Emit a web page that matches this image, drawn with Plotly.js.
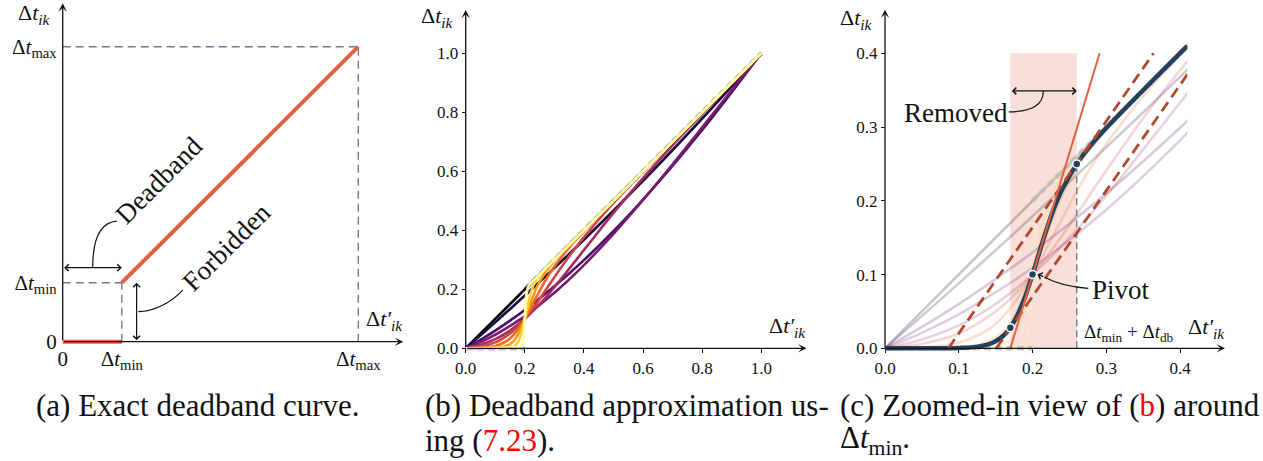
<!DOCTYPE html>
<html>
<head>
<meta charset="utf-8">
<script src="https://cdn.plot.ly/plotly-3.0.1.min.js"></script>
<style>html,body{margin:0;padding:0;background:#fff;}</style>
</head>
<body>
<div id="chart" style="width:1263px;height:461px"></div>
<script>
// ---------- data (time axis normalised so that Δt_max = 1) ----------
const dtMin = 0.2;
const dtMax = 1.0;

// exact deadband curve
const exactOffX = [0, 0.2];
const exactOffY = [0, 0];
const exactOnX = [0.2, 1.0];
const exactOnY = [0.2, 1.0];

// smooth approximations, from softest (black) to sharpest (pale yellow)
const c0X = [0, 1];
const c0Y = [0, 1];
const c1X = [0, 0.1, 0.2, 0.4, 0.6, 0.8, 1];
const c1Y = [0, 0.088, 0.179, 0.368, 0.568, 0.779, 1];
const c2X = [0, 0.05, 0.1, 0.15, 0.2, 0.3, 0.4, 0.5, 0.6, 0.7, 0.8, 0.9, 1];
const c2Y = [0, 0.029, 0.060, 0.094, 0.130, 0.210, 0.299, 0.397, 0.504, 0.619, 0.740, 0.868, 1];
const c3X = [0, 0.05, 0.1, 0.15, 0.2, 0.3, 0.4, 0.5, 0.6, 0.7, 0.8, 0.9, 1];
const c3Y = [0, 0.021, 0.046, 0.076, 0.109, 0.188, 0.282, 0.388, 0.503, 0.624, 0.749, 0.875, 1];
const c4X = [0, 0.05, 0.1, 0.15, 0.2, 0.25, 0.3, 0.4, 0.5, 0.6, 0.7, 0.8, 0.9, 1];
const c4Y = [0, 0.012, 0.031, 0.060, 0.100, 0.150, 0.207, 0.333, 0.459, 0.577, 0.689, 0.795, 0.898, 1];
const c5X = [0, 0.05, 0.1, 0.15, 0.175, 0.2, 0.225, 0.25, 0.3, 0.35, 0.4, 0.5, 0.6, 0.8, 1];
const c5Y = [0, 0.006, 0.020, 0.050, 0.072, 0.100, 0.132, 0.167, 0.241, 0.312, 0.377, 0.493, 0.598, 0.800, 1];
const c6X = [0, 0.05, 0.1, 0.125, 0.15, 0.175, 0.2, 0.225, 0.25, 0.275, 0.3, 0.35, 0.4, 0.5, 1];
const c6Y = [0, 0.001, 0.008, 0.017, 0.033, 0.061, 0.100, 0.147, 0.194, 0.239, 0.277, 0.342, 0.397, 0.500, 1];
const c7X = [0, 0.1, 0.125, 0.15, 0.1625, 0.175, 0.1875, 0.2, 0.2125, 0.225, 0.2375, 0.25, 0.275, 0.3, 0.35, 1];
const c7Y = [0, 0.001, 0.004, 0.014, 0.025, 0.043, 0.068, 0.100, 0.135, 0.170, 0.201, 0.226, 0.266, 0.297, 0.350, 1];
const c8X = [0, 0.14, 0.16, 0.17, 0.18, 0.19, 0.2, 0.21, 0.22, 0.23, 0.24, 0.26, 0.28, 1];
const c8Y = [0, 0.001, 0.004, 0.011, 0.026, 0.055, 0.100, 0.149, 0.189, 0.216, 0.234, 0.259, 0.280, 1];
const c9X = [0, 0.185, 0.19, 0.195, 0.1975, 0.2, 0.2025, 0.205, 0.21, 0.215, 1];
const c9Y = [0, 0.0005, 0.003, 0.023, 0.053, 0.100, 0.148, 0.181, 0.206, 0.215, 1];

// selected approximation shown in the zoomed view
const chosenX = [0, 0.1, 0.12, 0.14, 0.15, 0.16, 0.17, 0.18, 0.19, 0.2, 0.21, 0.22, 0.23, 0.24, 0.26, 0.28, 0.3, 0.35, 0.41];
const chosenY = [0, 0.0005, 0.0016, 0.0054, 0.0096, 0.0167, 0.0283, 0.0458, 0.0701, 0.1, 0.1325, 0.164, 0.1917, 0.2149, 0.25, 0.2762, 0.2986, 0.3499, 0.41];
const keyX = [0.17, 0.2, 0.26];
const keyY = [0.028, 0.1, 0.25];
const tangentX = [0.17, 0.291];
const tangentY = [0, 0.4];
const boundAX = [0.086, 0.364];
const boundAY = [0, 0.4];
const boundBX = [0.151, 0.43];
const boundBY = [0, 0.4];
const removedBand = [0.17, 0.26];
const removedTop = 0.4;

const ticksB = [0, 0.2, 0.4, 0.6, 0.8, 1.0];
const ticksC = [0, 0.1, 0.2, 0.3, 0.4];

// ---------- styling ----------
const curvesX = [c0X, c1X, c2X, c3X, c4X, c5X, c6X, c7X, c8X, c9X];
const curvesY = [c0Y, c1Y, c2Y, c3Y, c4Y, c5Y, c6Y, c7Y, c8Y, c9Y];
const curveColors = ['#000004', '#1b0c41', '#4a0c6b', '#781c6d', '#a52c60',
                     '#cf4446', '#ed6925', '#fb9b06', '#f7d13d', '#fcffa4'];
const curveShapes = ['linear', 'spline', 'spline', 'spline', 'spline',
                     'spline', 'spline', 'linear', 'linear', 'linear'];

const W = 1263, H = 461;
const FONT = 'Liberation Serif';
const INK = '#111';
const ORANGE = '#e1603f';
const SLATE = '#6f7d8f';
const NAVY = '#24425f';
const RUST = '#b4472f';

// pixel frame of each panel: origin and pixels per data unit
const frameA = {ox: 62.7, oy: 341.7, sx: 295.6, sy: 295};
const frameB = {ox: 465.7, oy: 348.3, sx: 295.6, sy: 295};
const frameC = {ox: 885, oy: 348.3, sx: 737.5, sy: 737.5};

function domX(f, r) { return [(f.ox + f.sx * r[0]) / W, (f.ox + f.sx * r[1]) / W]; }
function domY(f, r) { return [1 - (f.oy - f.sy * r[0]) / H, 1 - (f.oy - f.sy * r[1]) / H]; }
function px(x) { return x / W; }
function py(y) { return 1 - y / H; }

function xAxis(f, range, extra) {
  return Object.assign({
    domain: domX(f, range), range: range, anchor: 'free', position: 1 - f.oy / H,
    showgrid: false, zeroline: false, showline: false,
    ticks: 'outside', ticklen: 4, tickwidth: 1, tickcolor: INK,
    tickfont: {family: FONT, size: 17, color: INK}, fixedrange: true
  }, extra);
}
function yAxis(f, range, extra) {
  return Object.assign({
    domain: domY(f, range), range: range, anchor: 'free', position: f.ox / W,
    showgrid: false, zeroline: false, showline: false,
    ticks: 'outside', ticklen: 4, tickwidth: 1, tickcolor: INK,
    tickfont: {family: FONT, size: 17, color: INK}, fixedrange: true
  }, extra);
}

const rangeAX = [-0.06, 1.16], rangeAY = [-0.06, 1.155];
const rangeBX = [-0.06, 1.16], rangeBY = [-0.06, 1.155];
const rangeCX = [-0.025, 0.465], rangeCY = [-0.025, 0.462];
const rangeDX = [-0.025, 0.41], rangeDY = [-0.025, 0.42];

const traces = [];
function line(xs, ys, xa, ya, lineStyle, extra) {
  traces.push(Object.assign({type: 'scatter', mode: 'lines', x: xs, y: ys, xaxis: xa, yaxis: ya,
    line: lineStyle, hoverinfo: 'skip', showlegend: false}, extra || {}));
}

// ----- (a) exact deadband -----
const guide = {color: SLATE, width: 1.4, dash: '8px,5px'};
line([0, dtMax], [dtMax, dtMax], 'x', 'y', guide);
line([dtMax, dtMax], [0, dtMax], 'x', 'y', guide);
line([0, dtMin], [dtMin, dtMin], 'x', 'y', guide);
line([dtMin, dtMin], [0, dtMin], 'x', 'y', guide);
line(exactOffX, exactOffY, 'x', 'y', {color: ORANGE, width: 4});
line(exactOnX, exactOnY, 'x', 'y', {color: ORANGE, width: 4});

// ----- (b) family of approximations -----
const exactStyle = {color: '#bdbdbd', width: 4.5, dash: '7px,4px'};
line(exactOffX, exactOffY, 'x2', 'y2', exactStyle);
line(exactOnX, exactOnY, 'x2', 'y2', exactStyle);
for (let i = 0; i < curvesX.length; i++) {
  line(curvesX[i], curvesY[i], 'x2', 'y2', {color: curveColors[i], width: 2.6, shape: curveShapes[i]});
}

// ----- (c) zoom around Δt_min (drawn in a clipped overlay frame) -----
line([], [], 'x3', 'y3', {color: INK});
for (let i = 0; i < curvesX.length; i++) {
  line(curvesX[i], curvesY[i], 'x4', 'y4', {color: curveColors[i], width: 2.6, shape: curveShapes[i]}, {opacity: 0.22});
}
line(exactOffX, exactOffY, 'x4', 'y4', exactStyle, {opacity: 0.8});
line(exactOnX, exactOnY, 'x4', 'y4', exactStyle, {opacity: 0.8});
line([removedBand[1], removedBand[1]], [0, keyY[2]], 'x4', 'y4', {color: SLATE, width: 1.4, dash: '7px,4px'});
line(chosenX, chosenY, 'x4', 'y4', {color: NAVY, width: 4.5, shape: 'spline'});
line(boundAX, boundAY, 'x4', 'y4', {color: RUST, width: 2.8, dash: '11px,6px'});
line(boundBX, boundBY, 'x4', 'y4', {color: RUST, width: 2.8, dash: '11px,6px'});
line(tangentX, tangentY, 'x4', 'y4', {color: ORANGE, width: 2});
traces.push({type: 'scatter', mode: 'markers', x: keyX, y: keyY, xaxis: 'x4', yaxis: 'y4',
  marker: {color: NAVY, size: 8, line: {color: '#fff', width: 1.5}}, hoverinfo: 'skip', showlegend: false});

// ---------- annotations ----------
const ann = [];
function axisArrow(xa, ya, x0, y0, x1, y1) {
  ann.push({xref: xa, yref: ya, axref: xa, ayref: ya, x: x1, y: y1, ax: x0, ay: y0, text: '',
    showarrow: true, arrowhead: 3, arrowsize: 1.1, arrowwidth: 1.3, arrowcolor: INK, standoff: 0});
}
function twoWay(xa, ya, x0, y0, x1, y1) {
  ann.push({xref: xa, yref: ya, axref: xa, ayref: ya, x: x1, y: y1, ax: x0, ay: y0, text: '',
    showarrow: true, arrowside: 'end+start', arrowhead: 4, startarrowhead: 4, arrowsize: 1.1,
    startarrowsize: 1.1, arrowwidth: 1.2, arrowcolor: INK, standoff: 0, startstandoff: 0});
}
function label(text, x, y, size, extra) {
  ann.push(Object.assign({xref: 'paper', yref: 'paper', x: px(x), y: py(y), text: text, showarrow: false,
    xanchor: 'center', yanchor: 'middle', font: {family: FONT, size: size, color: INK}}, extra || {}));
}
function dataText(xa, ya, text, x, y, size, extra) {
  ann.push(Object.assign({xref: xa, yref: ya, x: x, y: y, text: text, showarrow: false,
    xanchor: 'center', yanchor: 'middle', font: {family: FONT, size: size, color: INK}}, extra || {}));
}

const dtIk = 'Δ<i>t</i><sub><i>ik</i></sub>';
const dtIkP = 'Δ<i>t′</i><sub><i>ik</i></sub>';
const dtMinTxt = 'Δ<i>t</i><sub>min</sub>';
const dtMaxTxt = 'Δ<i>t</i><sub>max</sub>';

// axes with arrow tips
axisArrow('x', 'y', 0, 0, 1.152, 0);
axisArrow('x', 'y', 0, 0, 0, 1.147);
axisArrow('x2', 'y2', 0, 0, 1.153, 0);
axisArrow('x2', 'y2', 0, 0, 0, 1.147);
axisArrow('x3', 'y3', 0, 0, 0.461, 0);
axisArrow('x3', 'y3', 0, 0, 0, 0.459);

// axis names
label(dtIk, 34, 14, 22);
label(dtIkP, 384, 320, 22);
label(dtIk, 437, 17, 22);
label(dtIkP, 787, 327, 22);
label(dtIk, 856, 19, 22);
label(dtIkP, 1206, 328, 22);

// (a) callouts
twoWay('x', 'y', 0, 0.251, dtMin, 0.251);
twoWay('x', 'y', 0.25, 0, 0.25, dtMin);
dataText('x', 'y', 'Deadband', 0.3264, 0.548, 27, {textangle: -45});
dataText('x', 'y', 'Forbidden', 0.5548, 0.32, 27, {textangle: -45});

// (c) callouts
twoWay('x3', 'y3', removedBand[0], 0.349, removedBand[1], 0.349);
dataText('x3', 'y3', 'Removed', 0.0963, 0.3186, 27);
dataText('x3', 'y3', 'Pivot', 0.3197, 0.079, 27);
ann.push({xref: 'x3', yref: 'y3', axref: 'x3', ayref: 'y3', x: 0.2068, y: 0.1003, ax: 0.2165, ay: 0.0963,
  text: '', showarrow: true, arrowhead: 4, arrowsize: 1.1, arrowwidth: 1.2, arrowcolor: INK, standoff: 0});
dataText('x3', 'y3', dtMinTxt + ' + Δ<i>t</i><sub>db</sub>', 0.2667, 0.0203, 19, {xanchor: 'left'});

// captions
const RED = '#ff0000';
label('(a) Exact deadband curve.', 198, 405, 31);
label('(b) Deadband approximation us-', 423, 405, 31, {xanchor: 'left'});
label('ing (<span style="color:' + RED + '">7.23</span>).', 423, 440, 31, {xanchor: 'left'});
label('(c) Zoomed-in view of (<span style="color:' + RED + '">b</span>) around', 838, 405, 31, {xanchor: 'left'});
label(dtMinTxt + '.', 838, 440, 31, {xanchor: 'left'});

// curved leader lines
const leader = {color: INK, width: 1.2};
const shapes = [
  {type: 'rect', xref: 'x4', yref: 'y4', x0: removedBand[0], x1: removedBand[1], y0: 0, y1: removedTop,
   fillcolor: 'rgba(225,96,63,0.2)', line: {width: 0}, layer: 'below'},
  {type: 'path', xref: 'x', yref: 'y', path: 'M 0.1015,0.251 C 0.1015,0.35 0.13,0.405 0.183,0.409', line: leader},
  {type: 'path', xref: 'x', yref: 'y', path: 'M 0.2558,0.1017 C 0.31,0.103 0.37,0.135 0.406,0.175', line: leader},
  {type: 'path', xref: 'x3', yref: 'y3', path: 'M 0.2147,0.349 C 0.2147,0.33 0.2,0.3215 0.168,0.3205', line: leader},
  {type: 'path', xref: 'x3', yref: 'y3', path: 'M 0.2757,0.0813 C 0.25,0.083 0.232,0.088 0.2165,0.0963', line: leader}
];

const tickA = {family: FONT, size: 21, color: INK};
const layout = {
  width: W, height: H, margin: {l: 0, r: 0, t: 0, b: 0},
  paper_bgcolor: '#fff', plot_bgcolor: 'rgba(0,0,0,0)', showlegend: false,
  font: {family: FONT, color: INK},
  xaxis: xAxis(frameA, rangeAX, {tickvals: [0, dtMin, dtMax], ticktext: ['0', dtMinTxt, dtMaxTxt],
    ticks: '', tickfont: tickA, ticklabelstandoff: 2}),
  yaxis: yAxis(frameA, rangeAY, {tickvals: [0, dtMin, dtMax], ticktext: ['0', dtMinTxt, dtMaxTxt],
    ticks: '', tickfont: tickA, ticklabelstandoff: 6}),
  xaxis2: xAxis(frameB, rangeBX, {tickvals: ticksB, tickformat: '.1f'}),
  yaxis2: yAxis(frameB, rangeBY, {tickvals: ticksB, tickformat: '.1f'}),
  xaxis3: xAxis(frameC, rangeCX, {tickvals: ticksC, tickformat: '.1f'}),
  yaxis3: yAxis(frameC, rangeCY, {tickvals: ticksC, tickformat: '.1f'}),
  xaxis4: {domain: domX(frameC, rangeDX), range: rangeDX, anchor: 'y4', visible: false, fixedrange: true},
  yaxis4: {domain: domY(frameC, rangeDY), range: rangeDY, anchor: 'x4', visible: false, fixedrange: true},
  annotations: ann,
  shapes: shapes
};

Plotly.newPlot('chart', traces, layout, {displayModeBar: false, staticPlot: true});
</script>
</body>
</html>
